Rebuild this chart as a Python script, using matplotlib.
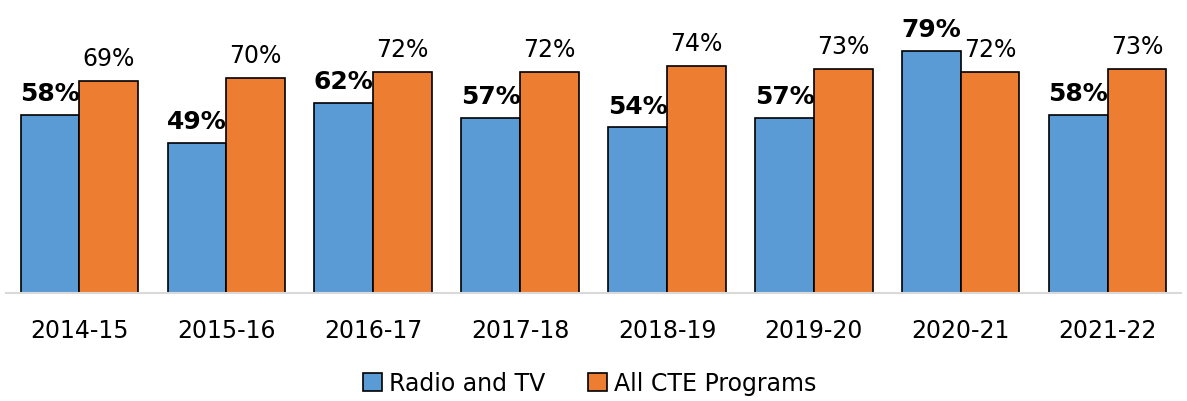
import numpy as np
import matplotlib.pyplot as plt

years = ['2014-15', '2015-16', '2016-17', '2017-18', '2018-19', '2019-20', '2020-21', '2021-22']
radio_tv = [58, 49, 62, 57, 54, 57, 79, 58]
all_cte = [69, 70, 72, 72, 74, 73, 72, 73]

blue = '#5B9BD5'
orange = '#ED7D31'

plt.rcParams['font.family'] = ['DejaVu Sans']

fig = plt.figure(figsize=(11.87, 4.02), dpi=100)
ax = fig.add_axes([0.005, 0.2687, 0.99, 0.7313])

x = np.arange(len(years))
w = 0.4
b1 = ax.bar(x - w / 2, radio_tv, w, color=blue, edgecolor='black', linewidth=1.2, label='Radio and TV')
b2 = ax.bar(x + w / 2, all_cte, w, color=orange, edgecolor='black', linewidth=1.2, label='All CTE Programs')

for xi, v in zip(x, radio_tv):
    ax.annotate(f'{v}%', (xi - w / 2, v), xytext=(0, 7), textcoords='offset points',
                ha='center', va='bottom', fontsize=18, fontweight='bold')
for xi, v in zip(x, all_cte):
    ax.annotate(f'{v}%', (xi + w / 2, v), xytext=(0, 8), textcoords='offset points',
                ha='center', va='bottom', fontsize=17)

ax.set_xlim(-0.5, len(years) - 0.5)
ax.set_ylim(0, 95.8)
ax.set_xticks(x)
ax.set_xticklabels(years, fontsize=17)
ax.tick_params(axis='x', length=0, pad=18)
ax.set_yticks([])
for s in ['top', 'right', 'left']:
    ax.spines[s].set_visible(False)
ax.spines['bottom'].set_color('#D9D9D9')
ax.spines['bottom'].set_linewidth(1.5)

fig.legend(handles=[b1, b2], loc='center', bbox_to_anchor=(0.497, 0.045), ncol=2, frameon=False,
           fontsize=17, handlelength=0.8, handleheight=0.8, handletextpad=0.3, columnspacing=1.8)

fig.savefig('out.png', dpi=100)
